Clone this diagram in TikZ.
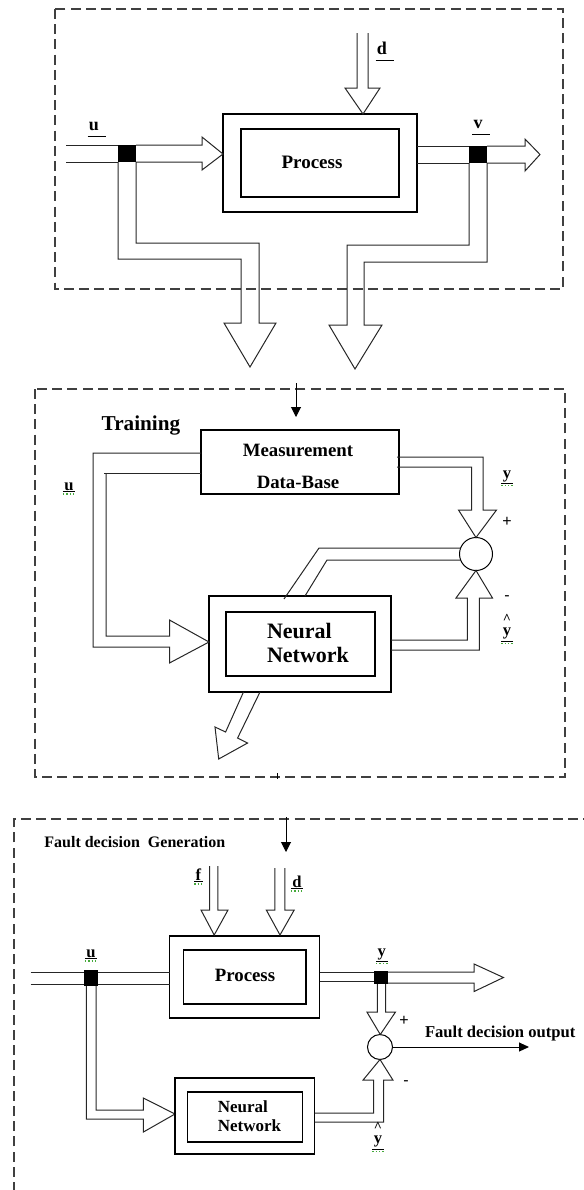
\documentclass[tikz,border=0pt]{standalone}
\usepackage{fontspec}
\setmainfont{Liberation Serif}
\setsansfont{Liberation Sans}
\usetikzlibrary{arrows.meta}

\begin{document}
\begin{tikzpicture}[x=0.5pt,y=-0.5pt,line join=miter,
    pipe/.style={line width=0.5pt,black!85},
    box/.style={line width=0.65pt},
    frame/.style={line width=0.65pt,black!75,dash pattern=on 5pt off 2.6pt},
    feed/.style={line width=0.5pt,-{Triangle[length=5pt,width=5pt]}},
    sig/.style={inner sep=0.5pt,font=\bfseries\fontsize{9}{10}\selectfont},
    sigs/.style={inner sep=0.6pt,font=\bfseries\fontsize{8.3}{9}\selectfont},
    sighat/.style={sigs,align=center,anchor=south},
    pm/.style={inner sep=0pt,font=\sffamily\fontsize{8}{9}\selectfont},
    junction/.style={circle,draw,line width=0.5pt,inner sep=0pt}]

% Canvas: 584 x 1190 units, 1 unit = 0.5pt, y grows downward.
\definecolor{Csquig}{RGB}{70,170,60}   % spell-check squiggle under the signals
\useasboundingbox (0,0) rectangle (584,1190);

% ── Panel 1: process with measured signals ───────────────────────────────────
\draw[frame] (55,9) rectangle (563,289);

\draw[box] (223,114) rectangle (417,212);
\draw[box] (241,129) rectangle (399,197);
\node[font=\bfseries\fontsize{9.5}{11}\selectfont] (procTop) at (312,162) {Process};

% disturbance d
\draw[pipe] (357,33) -- (357,88) -- (345,88) -- (363,114) -- (380,88) -- (368,88) -- (368,33);
\node[sig,anchor=base] (dTop) at (382,54) {d};

% input u, tap and feed into the process
\draw[pipe] (66,145) -- (118,145);
\draw[pipe] (66,162) -- (118,162);
\fill (118,145) rectangle (136,162);
\draw[pipe] (136,145) -- (202,145) -- (202,137) -- (223,154) -- (202,170) -- (202,162) -- (136,162);
\draw[pipe] (136,162) -- (136,243) -- (259,243) -- (259,323) -- (276,323) -- (250,367)
  -- (224,323) -- (241,323) -- (241,259) -- (118,259) -- (118,162);
\node[sig,anchor=base] (uTop) at (94,130) {u};

% output v, tap and branch down
\draw[pipe] (417,146) -- (469,146);
\draw[pipe] (417,163) -- (469,163);
\fill (469,146) rectangle (487,163);
\draw[pipe] (487,146) -- (525,146) -- (525,139) -- (540,154.5) -- (525,171) -- (525,163) -- (487,163);
\draw[pipe] (469,163) -- (469,245) -- (347,245) -- (347,325) -- (329,325) -- (355,369)
  -- (382,325) -- (364,325) -- (364,262) -- (487,262) -- (487,163);
\node[sig,anchor=base] (vTop) at (478,128) {v};

\foreach \n in {uTop,dTop,vTop}
  \draw[line width=0.45pt] ([yshift=-2.5pt]\n.south west) -- ([xshift=3pt,yshift=-2.5pt]\n.south east);

% ── Panel 2: training ────────────────────────────────────────────────────────
\draw[frame] (35,389) rectangle (565,777);
\coordinate (trainIn) at (296,383);
\coordinate (trainEnd) at (296,417);
\draw[feed] (trainIn) -- (trainEnd);
\draw[line width=0.5pt] (277,773) -- (277,779);

\node[font=\bfseries\fontsize{10.6}{12}\selectfont] (trainLbl) at (141,425) {Training};

\draw[box] (201,430) rectangle (399,494);
\node[align=center,font=\bfseries\fontsize{9.4}{16}\selectfont] (measDB) at (298,466)
  {Measurement\\Data-Base};

\draw[box] (209,596) rectangle (391,692);
\draw[box] (226,612) rectangle (375,676);
\node[align=left,font=\bfseries\fontsize{11}{12}\selectfont] (nnMid) at (308,643)
  {Neural\\Network};

% recorded u into the network
\draw[pipe] (201,453) -- (93,453) -- (93,647) -- (169.5,647) -- (169.5,663) -- (209,642)
  -- (169.5,620) -- (169.5,636) -- (106,636) -- (106,473);
\draw[pipe] (104,473) -- (201,473);
\node[sigs,anchor=base] (uMid) at (69,490) {u};

% y and y-hat into the comparator
\node[junction,minimum size=16.5pt] (sumMid) at (476,554) {};
\draw[pipe] (397,457) -- (483,457) -- (483,510) -- (496.5,510) -- (476,537.5) -- (458.5,510)
  -- (471.5,510) -- (471.5,467) -- (397,467);
\draw[pipe] (391,640) -- (467.3,640) -- (467.3,598) -- (456,598) -- (476,570.5) -- (492.5,598)
  -- (479.4,598) -- (479.4,650) -- (391,650);
\node[sigs,anchor=base] (yMid) at (507,478) {y};
\node[pm] (plusMid) at (507,522) {+};
\node[pm] (minusMid) at (507,598) {-};
\node[sighat] (yhMid) at (507,641) {{\fontsize{7}{7}\selectfont\textasciicircum}\\[-3pt]y};

% error back to the network, trained network out
\draw[pipe] (460.6,548) -- (319,548) -- (284,599);
\draw[pipe] (460.6,560) -- (327,560) -- (305,596);
\draw[pipe] (243.5,692) -- (225.6,732) -- (215,727) -- (218.7,759) -- (247.6,743)
  -- (237.6,738) -- (260,692);

% ── Panel 3: fault decision ──────────────────────────────────────────────────
\draw[frame] (14,1192) -- (14,819) -- (586,819);
\coordinate (faultIn) at (286,817);
\coordinate (faultEnd) at (286,852);
\draw[feed] (faultIn) -- (faultEnd);

\node[anchor=west,inner sep=0pt,font=\bfseries\fontsize{8}{9}\selectfont] (genLbl) at (44,842)
  {Fault decision\ \ Generation};

\draw[box] (169.5,936) rectangle (319.6,1018);
\draw[box] (183.2,950) rectangle (306.1,1004);
\node[font=\bfseries\fontsize{9.4}{11}\selectfont] (procBot) at (245,975) {Process};

% fault f and disturbance d
\draw[pipe] (209.7,866) -- (209.7,910) -- (201,910) -- (214.2,935) -- (228,910) -- (217.9,910) -- (217.9,866);
\draw[pipe] (274.9,868) -- (274.9,910) -- (266.3,910) -- (280,935) -- (294.2,910) -- (284.9,910) -- (284.9,868);
\node[sigs,anchor=base] (fBot) at (198.5,880) {f};
\node[sigs,anchor=base] (dBot) at (297,887) {d};

% input u into process and network
\draw[pipe] (30.5,972) -- (83.8,972);
\draw[pipe] (30.5,984) -- (83.8,984);
\fill (83.8,970) rectangle (97.6,986);
\draw[pipe] (97.6,972) -- (169.5,972);
\draw[pipe] (97.6,984) -- (169.5,984);
\draw[pipe] (96.1,986) -- (96.1,1110) -- (143.4,1110) -- (143.4,1098) -- (175,1114)
  -- (143.4,1132) -- (143.4,1119) -- (86.4,1119) -- (86.4,986);
\node[sigs,anchor=base] (uBot) at (91,957) {u};

\draw[box] (175,1078) rectangle (314.7,1154);
\draw[box] (187.3,1092) rectangle (302.8,1142);
\node[align=left,font=\bfseries\fontsize{8.5}{9.5}\selectfont] (nnBot) at (249.5,1116)
  {Neural\\Network};

% measured y, residual against y-hat
\draw[pipe] (319.6,972) -- (373.6,972);
\draw[pipe] (319.6,981) -- (373.6,981);
\fill (373.6,971) rectangle (388.1,984);
\draw[pipe] (388.1,972) -- (474.1,972) -- (474.1,964) -- (503.5,977.5) -- (474.1,991.5)
  -- (474.1,983) -- (388.1,983);
\node[sigs,anchor=base] (yBot) at (381.8,956) {y};

\node[junction,minimum size=12.5pt] (sumBot) at (380,1047) {};
\draw[pipe] (377.3,984) -- (377.3,1012) -- (366.9,1012) -- (380.3,1034.5) -- (395.5,1012)
  -- (385.5,1012) -- (385.5,984);
\draw[pipe] (314.7,1113) -- (373.6,1113) -- (373.6,1080) -- (363.1,1080) -- (380,1059.5)
  -- (392.9,1080) -- (383.6,1080) -- (383.6,1122) -- (314.7,1122);
\node[pm] (plusBot) at (404,1021) {+};
\node[pm] (minusBot) at (406,1083) {-};
\node[sighat] (yhBot) at (378,1149) {{\fontsize{7}{7}\selectfont\textasciicircum}\\[-3pt]y};

\coordinate (faultOut) at (529,1047);
\draw[line width=0.5pt,-{Triangle[length=5pt,width=4.5pt]}] (sumBot.east) -- (faultOut);
\node[anchor=west,inner sep=0pt,font=\bfseries\fontsize{8.3}{9}\selectfont] (outLbl) at (424.6,1033)
  {Fault decision\ output};

% ── Signal underlines ─────────────────────────────────────────────────────────
\foreach \n in {uMid,yMid,yhMid,fBot,dBot,uBot,yBot,yhBot}{
  \draw[line width=0.4pt] (\n.south west) -- (\n.south east);
  \draw[Csquig,densely dotted,line width=0.7pt] ([yshift=-1.1pt]\n.south west) -- ([yshift=-1.1pt]\n.south east);
}

\end{tikzpicture}
\end{document}
